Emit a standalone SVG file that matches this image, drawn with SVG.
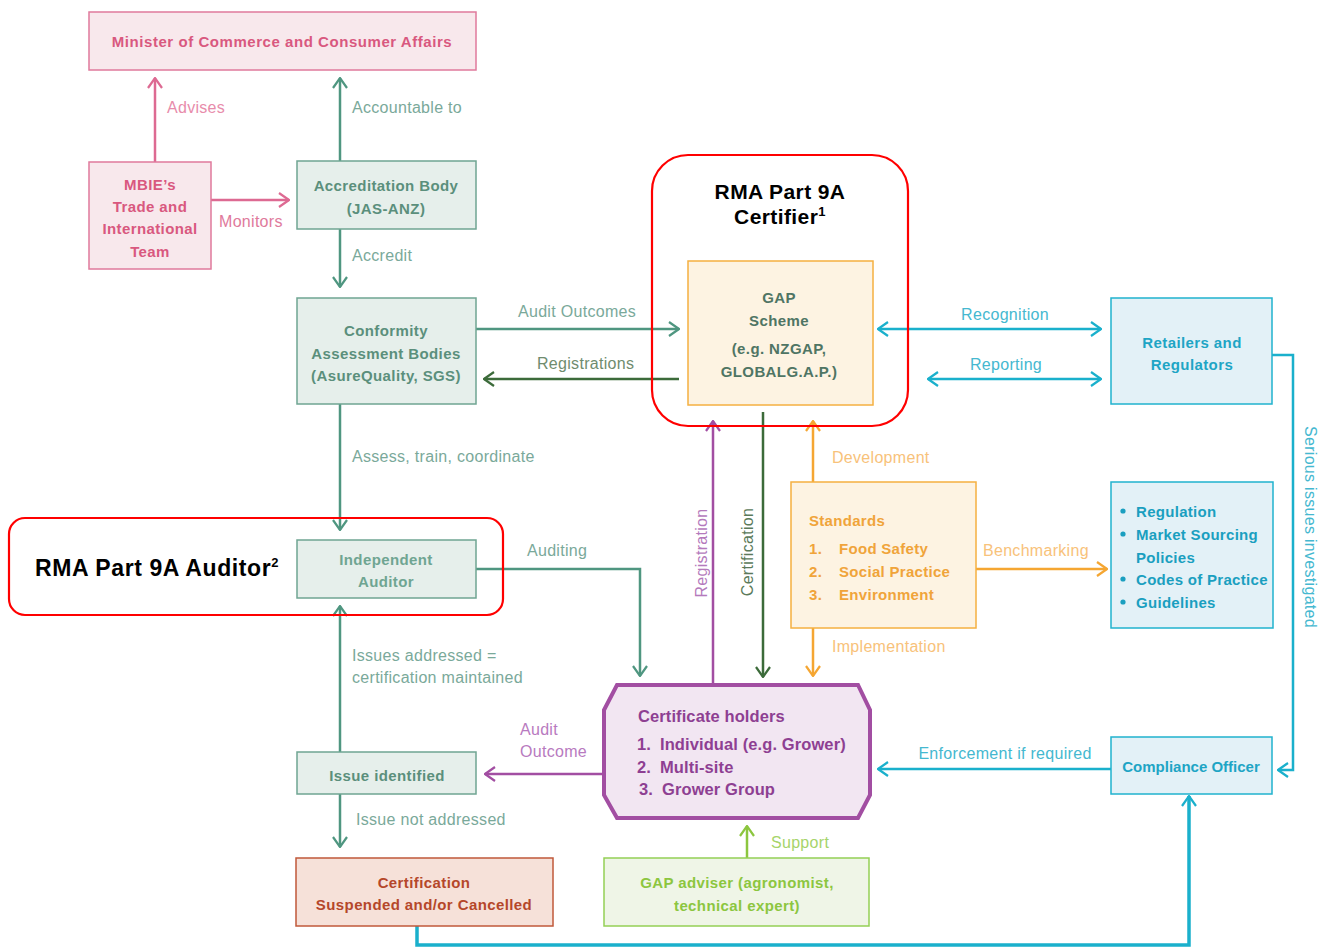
<svg xmlns="http://www.w3.org/2000/svg" width="1330" height="948" viewBox="0 0 1330 948">
<style>
text{font-family:"Liberation Sans",Arial,sans-serif}
.n{font-size:15px;font-weight:bold;letter-spacing:0.4px;text-anchor:middle}
.l{font-size:16px;letter-spacing:0.3px}
.h{font-size:21px;font-weight:bold;fill:#000;letter-spacing:0.4px}
.h2{font-size:23px;letter-spacing:0.6px}
.sup{font-size:13px}
.box{stroke-width:1.5}
.pk{fill:#f8e8ec;stroke:#e07a9c}
.tl{fill:#e6efeb;stroke:#6fa592}
.or{fill:#fdf3e2;stroke:#f5b040}
.cy{fill:#e3f1f7;stroke:#20b2ce}
.c{fill:none;stroke-width:2.5}
</style>
<defs>
<marker id="mPk" viewBox="0 0 12 16" refX="11" refY="8" markerWidth="12" markerHeight="16" markerUnits="userSpaceOnUse" orient="auto-start-reverse"><path d="M1,1 L11,8 L1,15" fill="none" stroke="#dd6a92" stroke-width="2.2"/></marker>
<marker id="mTl" viewBox="0 0 12 16" refX="11" refY="8" markerWidth="12" markerHeight="16" markerUnits="userSpaceOnUse" orient="auto-start-reverse"><path d="M1,1 L11,8 L1,15" fill="none" stroke="#4f9680" stroke-width="2.2"/></marker>
<marker id="mDg" viewBox="0 0 12 16" refX="11" refY="8" markerWidth="12" markerHeight="16" markerUnits="userSpaceOnUse" orient="auto-start-reverse"><path d="M1,1 L11,8 L1,15" fill="none" stroke="#3c6b3a" stroke-width="2.2"/></marker>
<marker id="mCy" viewBox="0 0 12 16" refX="11" refY="8" markerWidth="12" markerHeight="16" markerUnits="userSpaceOnUse" orient="auto-start-reverse"><path d="M1,1 L11,8 L1,15" fill="none" stroke="#1ab0cc" stroke-width="2.2"/></marker>
<marker id="mOr" viewBox="0 0 12 16" refX="11" refY="8" markerWidth="12" markerHeight="16" markerUnits="userSpaceOnUse" orient="auto-start-reverse"><path d="M1,1 L11,8 L1,15" fill="none" stroke="#f5a632" stroke-width="2.2"/></marker>
<marker id="mPu" viewBox="0 0 12 16" refX="11" refY="8" markerWidth="12" markerHeight="16" markerUnits="userSpaceOnUse" orient="auto-start-reverse"><path d="M1,1 L11,8 L1,15" fill="none" stroke="#a24ea2" stroke-width="2.2"/></marker>
<marker id="mGr" viewBox="0 0 12 16" refX="11" refY="8" markerWidth="12" markerHeight="16" markerUnits="userSpaceOnUse" orient="auto-start-reverse"><path d="M1,1 L11,8 L1,15" fill="none" stroke="#8cc63f" stroke-width="2.2"/></marker>
</defs>
<rect width="1330" height="948" fill="#fff"/>

<g id="connectors">
<line class="c" x1="155" y1="162" x2="155" y2="78" stroke="#dd6a92" marker-end="url(#mPk)"/>
<line class="c" x1="211" y1="200" x2="289" y2="200" stroke="#dd6a92" marker-end="url(#mPk)"/>
<line class="c" x1="340" y1="161" x2="340" y2="78" stroke="#4f9680" marker-end="url(#mTl)"/>
<line class="c" x1="340" y1="229" x2="340" y2="287" stroke="#4f9680" marker-end="url(#mTl)"/>
<line class="c" x1="476" y1="329" x2="679" y2="329" stroke="#4f9680" marker-end="url(#mTl)"/>
<line class="c" x1="679" y1="379" x2="484" y2="379" stroke="#3c6b3a" marker-end="url(#mDg)"/>
<line class="c" x1="340" y1="404" x2="340" y2="530" stroke="#4f9680" marker-end="url(#mTl)"/>
<line class="c" x1="878" y1="329" x2="1101" y2="329" stroke="#1ab0cc" marker-start="url(#mCy)" marker-end="url(#mCy)"/>
<line class="c" x1="928" y1="379" x2="1101" y2="379" stroke="#1ab0cc" marker-start="url(#mCy)" marker-end="url(#mCy)"/>
<polyline class="c" points="1272,355 1293,355 1293,770 1278,770" stroke="#1ab0cc" marker-end="url(#mCy)"/>
<line class="c" x1="813" y1="482" x2="813" y2="421" stroke="#f5a632" marker-end="url(#mOr)"/>
<line class="c" x1="813" y1="628" x2="813" y2="676" stroke="#f5a632" marker-end="url(#mOr)"/>
<line class="c" x1="976" y1="569" x2="1107" y2="569" stroke="#f5a632" marker-end="url(#mOr)"/>
<line class="c" x1="713" y1="685" x2="713" y2="421" stroke="#a24ea2" marker-end="url(#mPu)"/>
<line class="c" x1="763" y1="412" x2="763" y2="677" stroke="#3c6b3a" marker-end="url(#mDg)"/>
<polyline class="c" points="476,569 640,569 640,676" stroke="#4f9680" marker-end="url(#mTl)"/>
<line class="c" x1="340" y1="752" x2="340" y2="606" stroke="#4f9680" marker-end="url(#mTl)"/>
<line class="c" x1="603" y1="774" x2="485" y2="774" stroke="#a24ea2" marker-end="url(#mPu)"/>
<line class="c" x1="340" y1="794" x2="340" y2="847" stroke="#4f9680" marker-end="url(#mTl)"/>
<line class="c" x1="747" y1="858" x2="747" y2="826" stroke="#8cc63f" marker-end="url(#mGr)"/>
<line class="c" x1="1111" y1="769" x2="878" y2="769" stroke="#1ab0cc" marker-end="url(#mCy)"/>
<polyline fill="none" stroke-width="3.5" points="417,926 417,945 1189,945 1189,796" stroke="#1ab0cc" marker-end="url(#mCy)"/>

<text class="l" x="167" y="113" fill="#e88cab">Advises</text>
<text class="l" x="219" y="227" fill="#e07a9c">Monitors</text>
<text class="l" x="352" y="113" fill="#7aa99a">Accountable to</text>
<text class="l" x="352" y="261" fill="#7aa99a">Accredit</text>
<text class="l" x="518" y="317" fill="#7aa99a">Audit Outcomes</text>
<text class="l" x="537" y="369" fill="#6f8c6e">Registrations</text>
<text class="l" x="352" y="462" fill="#7aa99a">Assess, train, coordinate</text>
<text class="l" x="1005" y="320" fill="#45b8d0" text-anchor="middle">Recognition</text>
<text class="l" x="1006" y="370" fill="#45b8d0" text-anchor="middle">Reporting</text>
<text class="l" transform="translate(1305,527) rotate(90)" fill="#45b8d0" text-anchor="middle">Serious issues investigated</text>
<text class="l" x="832" y="463" fill="#f8c27a">Development</text>
<text class="l" x="832" y="652" fill="#f8c27a">Implementation</text>
<text class="l" x="983" y="556" fill="#f8c27a">Benchmarking</text>
<text class="l" transform="translate(707,553) rotate(-90)" fill="#b47abc" text-anchor="middle">Registration</text>
<text class="l" transform="translate(753,552) rotate(-90)" fill="#5b7a5a" text-anchor="middle">Certification</text>
<text class="l" x="527" y="556" fill="#7aa99a">Auditing</text>
<text class="l" x="352" y="661" fill="#7aa99a">Issues addressed =</text>
<text class="l" x="352" y="683" fill="#7aa99a">certification maintained</text>
<text class="l" x="520" y="735" fill="#b87ac0">Audit</text>
<text class="l" x="520" y="757" fill="#b87ac0">Outcome</text>
<text class="l" x="356" y="825" fill="#7aa99a">Issue not addressed</text>
<text class="l" x="1005" y="759" fill="#45b8d0" text-anchor="middle">Enforcement if required</text>
<text class="l" x="771" y="848" fill="#a6d46a">Support</text>
</g>

<g id="minister">
<rect class="box pk" x="89" y="12" width="387" height="58"/>
<text class="n" x="282" y="47" fill="#d9587f" style="letter-spacing:0.55px">Minister of Commerce and Consumer Affairs</text>
</g>

<g id="mbie">
<rect class="box pk" x="89" y="162" width="122" height="107"/>
<text class="n" x="150" y="190" fill="#d9587f">MBIE’s</text>
<text class="n" x="150" y="212" fill="#d9587f">Trade and</text>
<text class="n" x="150" y="234" fill="#d9587f">International</text>
<text class="n" x="150" y="257" fill="#d9587f">Team</text>
</g>

<g id="accreditation">
<rect class="box tl" x="297" y="161" width="179" height="68"/>
<text class="n" x="386" y="191" fill="#5b8f7c">Accreditation Body</text>
<text class="n" x="386" y="214" fill="#5b8f7c">(JAS-ANZ)</text>
</g>

<g id="conformity">
<rect class="box tl" x="297" y="298" width="179" height="106"/>
<text class="n" x="386" y="336" fill="#5b8f7c">Conformity</text>
<text class="n" x="386" y="359" fill="#5b8f7c">Assessment Bodies</text>
<text class="n" x="386" y="381" fill="#5b8f7c">(AsureQuality, SGS)</text>
</g>

<g id="certifier">
<rect x="652" y="155" width="256" height="271" rx="36" fill="none" stroke="#ff0000" stroke-width="2.2"/>
<text class="h" x="780" y="199" text-anchor="middle">RMA Part 9A</text>
<text class="h" x="780" y="224" text-anchor="middle">Certifier<tspan class="sup" dy="-8">1</tspan></text>
</g>

<g id="gap-scheme">
<rect class="box or" x="688" y="261" width="185" height="144"/>
<text class="n" x="779" y="303" fill="#4f7564">GAP</text>
<text class="n" x="779" y="326" fill="#4f7564">Scheme</text>
<text class="n" x="779" y="354" fill="#4f7564">(e.g. NZGAP,</text>
<text class="n" x="779" y="377" fill="#4f7564">GLOBALG.A.P.)</text>
</g>

<g id="retailers">
<rect class="box cy" x="1111" y="298" width="161" height="106"/>
<text class="n" x="1192" y="348" fill="#1ea5c5">Retailers and</text>
<text class="n" x="1192" y="370" fill="#1ea5c5">Regulators</text>
</g>

<g id="regulation">
<rect class="box cy" x="1111" y="482" width="162" height="146"/>
<g fill="#1a9fc0" font-size="15" font-weight="bold" letter-spacing="0.3">
<circle cx="1123" cy="511" r="2.6"/><circle cx="1123" cy="534" r="2.6"/><circle cx="1123" cy="579" r="2.6"/><circle cx="1123" cy="602" r="2.6"/>
<text x="1136" y="517">Regulation</text>
<text x="1136" y="540">Market Sourcing</text>
<text x="1136" y="563">Policies</text>
<text x="1136" y="585">Codes of Practice</text>
<text x="1136" y="608">Guidelines</text>
</g>
</g>

<g id="standards">
<rect class="box or" x="791" y="482" width="185" height="146"/>
<g fill="#f0a43a" font-size="15" font-weight="bold" letter-spacing="0.3">
<text x="809" y="526">Standards</text>
<text x="809" y="554">1.</text><text x="839" y="554">Food Safety</text>
<text x="809" y="577">2.</text><text x="839" y="577">Social Practice</text>
<text x="809" y="600">3.</text><text x="839" y="600">Environment</text>
</g>
</g>

<g id="auditor">
<rect x="9" y="518" width="494" height="97" rx="16" fill="none" stroke="#ff0000" stroke-width="2.2"/>
<text class="h h2" x="35" y="576">RMA Part 9A Auditor<tspan class="sup" dy="-9">2</tspan></text>
<rect class="box tl" x="297" y="540" width="179" height="58"/>
<text class="n" x="386" y="565" fill="#6fa592">Independent</text>
<text class="n" x="386" y="587" fill="#6fa592">Auditor</text>
</g>

<g id="certificate-holders">
<polygon points="617,685 858,685 870,710 870,795 858,818 617,818 604,795 604,710" fill="#f2e6f2" stroke="#a24ea2" stroke-width="4"/>
<g fill="#8e3f92" font-size="16.5" letter-spacing="0.1" font-weight="bold">
<text x="638" y="722">Certificate holders</text>
<text x="637" y="750">1.</text><text x="660" y="750">Individual (e.g. Grower)</text>
<text x="637" y="773">2.</text><text x="660" y="773">Multi-site</text>
<text x="639" y="795">3.</text><text x="662" y="795">Grower Group</text>
</g>
</g>

<g id="issue-identified">
<rect class="box tl" x="297" y="752" width="179" height="42"/>
<text class="n" x="387" y="781" fill="#5b8f7c">Issue identified</text>
</g>

<g id="suspended">
<rect class="box" x="296" y="858" width="257" height="68" fill="#f6e1d9" stroke="#c0583a"/>
<text class="n" x="424" y="888" fill="#b5472a">Certification</text>
<text class="n" x="424" y="910" fill="#b5472a">Suspended and/or Cancelled</text>
</g>

<g id="gap-adviser">
<rect class="box" x="604" y="858" width="265" height="68" fill="#eff5e7" stroke="#94cf55"/>
<text class="n" x="737" y="888" fill="#8cc63f">GAP adviser (agronomist,</text>
<text class="n" x="737" y="911" fill="#8cc63f">technical expert)</text>
</g>

<g id="compliance">
<rect class="box cy" x="1111" y="737" width="161" height="57"/>
<text class="n" x="1191" y="772" fill="#1ea5c5" style="letter-spacing:0px">Compliance Officer</text>
</g>
</svg>
